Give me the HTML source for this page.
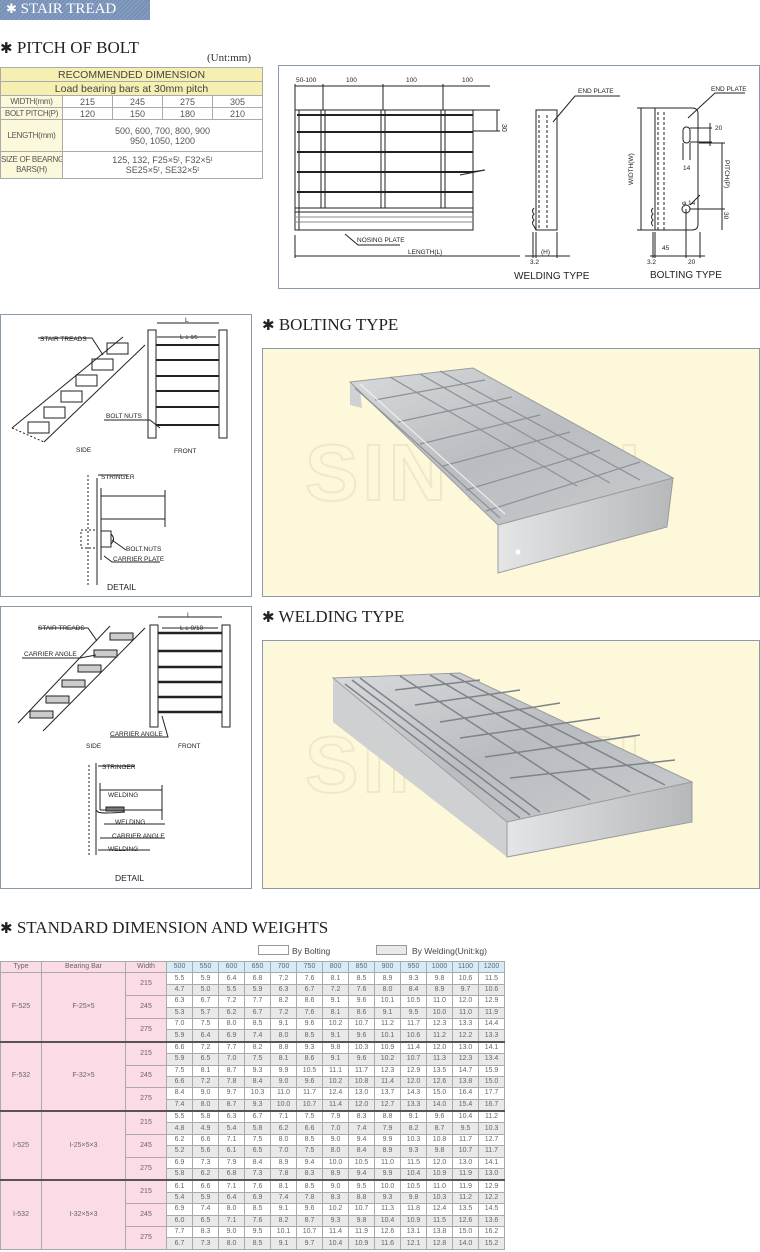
<!DOCTYPE html>
<html><head><meta charset="utf-8">
<style>
body{margin:0;width:760px;height:1252px;position:relative;background:#fff;overflow:hidden;font-family:"Liberation Sans",sans-serif}
.abs{position:absolute}
.h{font-family:"Liberation Serif",serif;font-size:17px;color:#222;white-space:nowrap}
.h b{font-family:"DejaVu Sans",sans-serif;font-size:15px}
table{border-collapse:collapse;table-layout:fixed}
#t1{left:0;top:67px;width:262px;font-size:9px;color:#555}
#t1 td{border:1px solid #aaa;text-align:center;padding:0;line-height:10px;overflow:hidden;white-space:nowrap}
#t1 .y{background:#f5efb2;font-size:10.5px;color:#444}
#t1 .l{background:#fcf8dc;font-size:8px;letter-spacing:-0.3px}
#t2{left:0;top:961px;width:503px;font-size:7px;color:#666}
#t2 td{border:1px solid #aaa;text-align:center;padding:0;height:10.4px;line-height:10px}
#t2 .p{background:#fbdbe6}
#t2 .b{background:#d5ecf8}
#t2 tr.w td{background:#e9e9e9}
#t2 tr.w td.p{background:#fbdbe6}
#t2 tr.g td{border-top:2px solid #555}
</style></head><body>

<div class="abs" style="left:0;top:0;width:150px;height:20px;background:repeating-linear-gradient(135deg,#7690b6 0 2px,#8aa1c4 2px 3px)"></div>
<div class="abs" style="left:6px;top:1px;color:#fff;font-family:'Liberation Serif',serif;font-size:15px"><span style="font-family:'DejaVu Sans';font-size:13px">✱</span> STAIR TREAD</div>

<div class="abs h" style="left:0;top:38px"><b>✱</b> PITCH OF BOLT</div>
<div class="abs" style="left:207px;top:52px;font-family:'Liberation Serif',serif;font-size:11px;color:#333">(Unt:mm)</div>

<table id="t1" class="abs">
<colgroup><col style="width:62px"><col style="width:50px"><col style="width:50px"><col style="width:50px"><col style="width:50px"></colgroup>
<tr><td class="y" colspan="5" style="height:13px">RECOMMENDED DIMENSION</td></tr>
<tr><td class="y" colspan="5" style="height:13px">Load bearing bars at 30mm pitch</td></tr>
<tr><td class="l" style="height:11px">WIDTH(mm)</td><td>215</td><td>245</td><td>275</td><td>305</td></tr>
<tr><td class="l" style="height:11px">BOLT PITCH(P)</td><td>120</td><td>150</td><td>180</td><td>210</td></tr>
<tr><td class="l" style="height:31px">LENGTH(mm)</td><td colspan="4">500, 600, 700, 800, 900<br>950, 1050, 1200</td></tr>
<tr><td class="l" style="height:26px">SIZE OF BEARNG<br>BARS(H)</td><td colspan="4">125, 132, F25×5ᵗ, F32×5ᵗ<br>SE25×5ᵗ, SE32×5ᵗ</td></tr>
</table>

<svg class="abs" style="left:0;top:0" width="760" height="1252" font-family="Liberation Sans, sans-serif">
<defs>
<linearGradient id="mt" x1="0" y1="0" x2="1" y2="1"><stop offset="0" stop-color="#d8dadc"/><stop offset=".5" stop-color="#b9bcc0"/><stop offset="1" stop-color="#c9cbce"/></linearGradient>
<linearGradient id="mf" x1="0" y1="0" x2="1" y2="0"><stop offset="0" stop-color="#e4e5e6"/><stop offset="1" stop-color="#b6b8ba"/></linearGradient>
</defs>
<rect x="278.5" y="65.5" width="481" height="223" fill="#fff" stroke="#8a9aab"/>
<g stroke="#222" fill="none" stroke-width="1">
<line x1="295" y1="86" x2="490" y2="86"/>
<line x1="295" y1="84" x2="295" y2="110"/><line x1="323" y1="84" x2="323" y2="110"/><line x1="383" y1="84" x2="383" y2="110"/><line x1="443" y1="84" x2="443" y2="110"/>
<rect x="295" y="110" width="178" height="120"/>
<line x1="299" y1="110" x2="299" y2="230"/>
<g stroke-width="2"><line x1="297" y1="115" x2="473" y2="115"/><line x1="297" y1="132" x2="473" y2="132"/><line x1="297" y1="152" x2="473" y2="152"/><line x1="297" y1="172" x2="473" y2="172"/><line x1="297" y1="192" x2="473" y2="192"/></g>
<rect x="321" y="110" width="4" height="98"/><rect x="381" y="110" width="4" height="98"/><rect x="441" y="110" width="4" height="98"/>
<line x1="295" y1="208" x2="473" y2="208"/><line x1="295" y1="212" x2="473" y2="212"/><line x1="295" y1="217" x2="473" y2="217" stroke="#888"/><line x1="295" y1="222" x2="473" y2="222" stroke="#888"/>
<line x1="473" y1="110" x2="500" y2="110"/><line x1="473" y1="131" x2="500" y2="131"/><line x1="497" y1="110" x2="497" y2="131"/>
<path d="M460 175 L485 170 L470 172"/>
<line x1="295" y1="256" x2="520" y2="256"/><line x1="295" y1="235" x2="295" y2="258"/>
<path d="M345 234 L358 245 L400 245"/>
<rect x="536" y="110" width="21" height="120"/>
<path d="M539 115 L539 230" stroke-dasharray="3 2"/><path d="M547 115 L547 230" stroke-dasharray="3 2"/>
<path d="M534 208 q-3 3 0 6 q-3 3 0 6 q-3 3 0 6 l2 4"/>
<line x1="533" y1="232" x2="533" y2="258"/><line x1="536" y1="232" x2="536" y2="258"/><line x1="557" y1="232" x2="557" y2="258"/>
<line x1="525" y1="256" x2="570" y2="256"/>
<path d="M553 122 L575 96 L620 96"/>
<path d="M655 108 L692 108 Q698 108 698 114 L698 224 Q698 230 692 230 L655 230 Z"/>
<path d="M658 112 L658 230" stroke-dasharray="3 2"/><path d="M664 112 L664 230" stroke-dasharray="3 2"/>
<rect x="683" y="127" width="7" height="16" rx="3.5"/><circle cx="686" cy="209" r="4"/>
<path d="M653 208 q-3 3 0 6 q-3 3 0 6 q-3 3 0 6"/>
<line x1="637" y1="108" x2="655" y2="108"/><line x1="637" y1="230" x2="655" y2="230"/><line x1="641" y1="108" x2="641" y2="230"/>
<line x1="690" y1="128" x2="712" y2="128"/><line x1="690" y1="142" x2="712" y2="142"/><line x1="710" y1="123" x2="710" y2="146"/>
<line x1="683" y1="143" x2="683" y2="160"/><line x1="690" y1="143" x2="690" y2="160"/>
<line x1="699" y1="143" x2="725" y2="143"/><line x1="722" y1="143" x2="722" y2="230"/><line x1="690" y1="209" x2="725" y2="209"/>
<line x1="686" y1="209" x2="686" y2="258"/><line x1="700" y1="232" x2="700" y2="258"/><line x1="655" y1="232" x2="655" y2="258"/><line x1="653" y1="232" x2="653" y2="258"/>
<line x1="650" y1="256" x2="705" y2="256"/>
<path d="M690 205 L700 195"/><path d="M688 118 L715 93 L745 93"/>
</g>
<g font-size="6.5" fill="#222">
<text x="296" y="82">50-100</text><text x="346" y="82">100</text><text x="406" y="82">100</text><text x="462" y="82">100</text>
<text x="502" y="124" transform="rotate(90 502 124)" font-size="7">30</text>
<text x="357" y="242">NOSING PLATE</text><text x="408" y="254">LENGTH(L)</text>
<text x="578" y="93">END PLATE</text><text x="711" y="91">END PLATE</text>
<text x="541" y="254">(H)</text><text x="530" y="264">3.2</text>
<text x="715" y="130">20</text><text x="683" y="170">14</text><text x="682" y="205">φ 14</text>
<text x="662" y="250">45</text><text x="688" y="264">20</text><text x="647" y="264">3.2</text>
<text x="633" y="185" transform="rotate(-90 633 185)">WIDTH(W)</text>
<text x="725" y="160" transform="rotate(90 725 160)">PITCH(P)</text>
<text x="724" y="212" transform="rotate(90 724 212)">30</text>
</g>
<text x="514" y="279" font-size="10" fill="#222">WELDING TYPE</text>
<text x="650" y="278" font-size="10" fill="#222">BOLTING TYPE</text>

<rect x="0.5" y="314.5" width="251" height="282" fill="#fff" stroke="#8a9aab"/>
<g stroke="#222" fill="none">
<line x1="12" y1="428" x2="123" y2="337"/><line x1="44" y1="442" x2="145" y2="345"/>
<path d="M12 428 L44 442" stroke-dasharray="2 2"/>
<rect x="28" y="422" width="21" height="11"/><rect x="44" y="407" width="21" height="11"/><rect x="61" y="391" width="21" height="11"/><rect x="76" y="375" width="21" height="11"/><rect x="92" y="359" width="21" height="11"/><rect x="107" y="343" width="21" height="11"/>
<path d="M38 338 L92 338 L103 355"/>
<rect x="148" y="330" width="8" height="108"/><rect x="219" y="330" width="8" height="108"/>
<g stroke-width="2"><line x1="156" y1="345" x2="219" y2="345"/><line x1="156" y1="360" x2="219" y2="360"/><line x1="156" y1="376" x2="219" y2="376"/><line x1="156" y1="391" x2="219" y2="391"/><line x1="156" y1="407" x2="219" y2="407"/><line x1="156" y1="425" x2="219" y2="425"/></g>
<line x1="157" y1="323" x2="219" y2="323"/><line x1="157" y1="337" x2="216" y2="337"/>
<path d="M104 420 L150 420 L160 428"/>
<line x1="88" y1="475" x2="88" y2="585" stroke-dasharray="2 2"/><line x1="97" y1="478" x2="97" y2="585"/><line x1="101" y1="488" x2="101" y2="560"/>
<line x1="101" y1="496" x2="165" y2="496"/><line x1="101" y1="519" x2="165" y2="519"/><line x1="165" y1="490" x2="165" y2="527"/>
<rect x="81" y="530" width="16" height="18" stroke-dasharray="2 2"/><rect x="101" y="531" width="10" height="16"/><path d="M111 534 q5 5 0 10"/>
<path d="M98 475 L128 475"/><path d="M112 540 L126 550"/><path d="M104 556 L112 562 L160 562"/>
</g>
<g font-size="6.5" fill="#222">
<text x="40" y="341">STAIR TREADS</text><text x="106" y="418">BOLT NUTS</text><text x="76" y="452">SIDE</text><text x="174" y="453">FRONT</text>
<text x="185" y="322">L</text><text x="180" y="339">L ± <tspan font-size="5">0/5</tspan></text>
<text x="101" y="479">STRINGER</text><text x="126" y="551">BOLT.NUTS</text><text x="113" y="561">CARRIER PLATE</text>
</g>
<text x="107" y="590" font-size="8.5" fill="#222">DETAIL</text>

<rect x="0.5" y="606.5" width="251" height="282" fill="#fff" stroke="#8a9aab"/>
<g stroke="#222" fill="none">
<line x1="18" y1="723" x2="110" y2="626"/><line x1="43" y1="731" x2="145" y2="628"/>
<g fill="#ccc"><rect x="30" y="711" width="23" height="7"/><rect x="46" y="696" width="23" height="7"/><rect x="62" y="680" width="23" height="7"/><rect x="78" y="665" width="23" height="7"/><rect x="94" y="650" width="23" height="7"/><rect x="110" y="633" width="23" height="7"/></g>
<path d="M38 628 L88 628 L97 641"/><path d="M22 658 L80 658 L96 655"/>
<rect x="150" y="625" width="8" height="102"/><rect x="222" y="625" width="8" height="102"/>
<g stroke-width="2.5"><line x1="158" y1="633" x2="222" y2="633"/><line x1="158" y1="651" x2="222" y2="651"/><line x1="158" y1="667" x2="222" y2="667"/><line x1="158" y1="682" x2="222" y2="682"/><line x1="158" y1="697" x2="222" y2="697"/><line x1="158" y1="712" x2="222" y2="712"/></g>
<line x1="158" y1="617" x2="222" y2="617"/><line x1="162" y1="628" x2="218" y2="628"/>
<path d="M110 737 L168 737 L162 716"/>
<line x1="89" y1="765" x2="89" y2="855" stroke-dasharray="2 2"/><line x1="96" y1="763" x2="96" y2="855"/><line x1="100" y1="783" x2="100" y2="810"/>
<line x1="100" y1="790" x2="162" y2="790"/><line x1="100" y1="810" x2="162" y2="810"/><line x1="162" y1="785" x2="162" y2="820"/>
<path d="M96 810 L98 812 Q102 814 125 812"/><rect x="106" y="807" width="18" height="4" fill="#777"/>
<path d="M98 766 L135 766"/><path d="M104 824 L130 824 L165 824"/><path d="M100 838 L110 838 L165 838"/><path d="M98 850 L105 850 L150 850"/>
</g>
<g font-size="6.5" fill="#222">
<text x="38" y="630">STAIR TREADS</text><text x="24" y="656">CARRIER ANGLE</text><text x="110" y="736">CARRIER ANGLE</text>
<text x="86" y="748">SIDE</text><text x="178" y="748">FRONT</text><text x="187" y="617">L</text><text x="180" y="630">L ± 0/10</text>
<text x="102" y="769">STRINGER</text><text x="108" y="797">WELDING</text><text x="115" y="824">WELDING</text><text x="112" y="838">CARRIER ANGLE</text><text x="108" y="851">WELDING</text>
</g>
<text x="115" y="881" font-size="8.5" fill="#222">DETAIL</text>

<rect x="262.5" y="348.5" width="497" height="248" fill="#fdf8d9" stroke="#8a9aab"/>
<text x="305" y="500" font-size="80" font-weight="bold" fill="#fdf8d9" stroke="#efe9c8" stroke-width="2" letter-spacing="4">SINTEEL</text>
<polygon points="350,382 350,405 362,408 360,390" fill="#cfd1d3"/>
<polygon points="350,382 473,368 673,478 498,525" fill="url(#mt)" stroke="#9a9da0"/>
<g stroke="#8d9094" stroke-width="1.2">
<line x1="390" y1="377" x2="577" y2="486"/><line x1="420" y1="374" x2="610" y2="483"/><line x1="440" y1="371" x2="640" y2="480"/>
<line x1="375" y1="400" x2="485" y2="380"/><line x1="398" y1="422" x2="512" y2="397"/><line x1="420" y1="444" x2="540" y2="415"/><line x1="443" y1="466" x2="570" y2="432"/><line x1="466" y1="490" x2="600" y2="450"/><line x1="486" y1="511" x2="640" y2="462"/>
<line x1="355" y1="388" x2="500" y2="518"/><line x1="360" y1="384" x2="505" y2="514" stroke="#eee"/>
</g>
<polygon points="498,525 673,478 667,527 498,573" fill="url(#mf)" stroke="#9a9da0"/>
<circle cx="518" cy="552" r="2.5" fill="#fff"/>

<rect x="262.5" y="640.5" width="497" height="248" fill="#fdf8d9" stroke="#8a9aab"/>
<text x="305" y="792" font-size="80" font-weight="bold" fill="#fdf8d9" stroke="#efe9c8" stroke-width="2" letter-spacing="4">SINTEEL</text>
<polygon points="333,678 333,722 507,857 507,822" fill="#cfd0d1"/>
<polygon points="333,678 460,673 692,782 507,822" fill="url(#mt)" stroke="#9a9da0"/>
<g stroke="#7f8387" stroke-width="1.5">
<line x1="345" y1="684" x2="520" y2="818"/><line x1="352" y1="680" x2="530" y2="815"/><line x1="360" y1="678" x2="540" y2="812"/>
<line x1="400" y1="676" x2="590" y2="800"/><line x1="430" y1="675" x2="630" y2="792"/><line x1="450" y1="674" x2="665" y2="785"/>
<line x1="395" y1="690" x2="480" y2="680"/><line x1="415" y1="705" x2="520" y2="690"/><line x1="440" y1="722" x2="560" y2="703"/><line x1="460" y1="738" x2="600" y2="718"/><line x1="485" y1="757" x2="640" y2="735"/><line x1="510" y1="778" x2="675" y2="760"/>
</g>
<polygon points="507,822 692,782 692,822 507,857" fill="url(#mf)" stroke="#9a9da0"/>

<rect x="258.5" y="945.5" width="30" height="9" fill="#fff" stroke="#999"/>
<rect x="376.5" y="945.5" width="30" height="9" fill="#e9e9e9" stroke="#999"/>
<text x="292" y="954" font-size="8.5" fill="#444">By Bolting</text>
<text x="412" y="954" font-size="8.5" fill="#444">By Welding(Unit:kg)</text>
</svg>

<div class="abs h" style="left:262px;top:315px"><b>✱</b> BOLTING TYPE</div>
<div class="abs h" style="left:262px;top:607px"><b>✱</b> WELDING TYPE</div>
<div class="abs h" style="left:0;top:918px"><b>✱</b> STANDARD DIMENSION AND WEIGHTS</div>

<table id="t2" class="abs">
<colgroup><col style="width:41px"><col style="width:84px"><col style="width:41px"><col span="13" style="width:26px"></colgroup>
<tr><td class="p">Type</td><td class="p">Bearing Bar</td><td class="p">Width</td><td class="b">500</td><td class="b">550</td><td class="b">600</td><td class="b">650</td><td class="b">700</td><td class="b">750</td><td class="b">800</td><td class="b">850</td><td class="b">900</td><td class="b">950</td><td class="b">1000</td><td class="b">1100</td><td class="b">1200</td></tr>
<tr><td class="p" rowspan="6">F-525</td><td class="p" rowspan="6">F-25×5</td><td class="p" rowspan="2">215</td><td>5.5</td><td>5.9</td><td>6.4</td><td>6.8</td><td>7.2</td><td>7.6</td><td>8.1</td><td>8.5</td><td>8.9</td><td>9.3</td><td>9.8</td><td>10.6</td><td>11.5</td></tr>
<tr class="w"><td>4.7</td><td>5.0</td><td>5.5</td><td>5.9</td><td>6.3</td><td>6.7</td><td>7.2</td><td>7.6</td><td>8.0</td><td>8.4</td><td>8.9</td><td>9.7</td><td>10.6</td></tr>
<tr><td class="p" rowspan="2">245</td><td>6.3</td><td>6.7</td><td>7.2</td><td>7.7</td><td>8.2</td><td>8.6</td><td>9.1</td><td>9.6</td><td>10.1</td><td>10.5</td><td>11.0</td><td>12.0</td><td>12.9</td></tr>
<tr class="w"><td>5.3</td><td>5.7</td><td>6.2</td><td>6.7</td><td>7.2</td><td>7.6</td><td>8.1</td><td>8.6</td><td>9.1</td><td>9.5</td><td>10.0</td><td>11.0</td><td>11.9</td></tr>
<tr><td class="p" rowspan="2">275</td><td>7.0</td><td>7.5</td><td>8.0</td><td>8.5</td><td>9.1</td><td>9.6</td><td>10.2</td><td>10.7</td><td>11.2</td><td>11.7</td><td>12.3</td><td>13.3</td><td>14.4</td></tr>
<tr class="w"><td>5.9</td><td>6.4</td><td>6.9</td><td>7.4</td><td>8.0</td><td>8.5</td><td>9.1</td><td>9.6</td><td>10.1</td><td>10.6</td><td>11.2</td><td>12.2</td><td>13.3</td></tr>
<tr class="g"><td class="p" rowspan="6">F-532</td><td class="p" rowspan="6">F-32×5</td><td class="p" rowspan="2">215</td><td>6.6</td><td>7.2</td><td>7.7</td><td>8.2</td><td>8.8</td><td>9.3</td><td>9.8</td><td>10.3</td><td>10.9</td><td>11.4</td><td>12.0</td><td>13.0</td><td>14.1</td></tr>
<tr class="w"><td>5.9</td><td>6.5</td><td>7.0</td><td>7.5</td><td>8.1</td><td>8.6</td><td>9.1</td><td>9.6</td><td>10.2</td><td>10.7</td><td>11.3</td><td>12.3</td><td>13.4</td></tr>
<tr><td class="p" rowspan="2">245</td><td>7.5</td><td>8.1</td><td>8.7</td><td>9.3</td><td>9.9</td><td>10.5</td><td>11.1</td><td>11.7</td><td>12.3</td><td>12.9</td><td>13.5</td><td>14.7</td><td>15.9</td></tr>
<tr class="w"><td>6.6</td><td>7.2</td><td>7.8</td><td>8.4</td><td>9.0</td><td>9.6</td><td>10.2</td><td>10.8</td><td>11.4</td><td>12.0</td><td>12.6</td><td>13.8</td><td>15.0</td></tr>
<tr><td class="p" rowspan="2">275</td><td>8.4</td><td>9.0</td><td>9.7</td><td>10.3</td><td>11.0</td><td>11.7</td><td>12.4</td><td>13.0</td><td>13.7</td><td>14.3</td><td>15.0</td><td>16.4</td><td>17.7</td></tr>
<tr class="w"><td>7.4</td><td>8.0</td><td>8.7</td><td>9.3</td><td>10.0</td><td>10.7</td><td>11.4</td><td>12.0</td><td>12.7</td><td>13.3</td><td>14.0</td><td>15.4</td><td>16.7</td></tr>
<tr class="g"><td class="p" rowspan="6">I-525</td><td class="p" rowspan="6">I-25×5×3</td><td class="p" rowspan="2">215</td><td>5.5</td><td>5.8</td><td>6.3</td><td>6.7</td><td>7.1</td><td>7.5</td><td>7.9</td><td>8.3</td><td>8.8</td><td>9.1</td><td>9.6</td><td>10.4</td><td>11.2</td></tr>
<tr class="w"><td>4.8</td><td>4.9</td><td>5.4</td><td>5.8</td><td>6.2</td><td>6.6</td><td>7.0</td><td>7.4</td><td>7.9</td><td>8.2</td><td>8.7</td><td>9.5</td><td>10.3</td></tr>
<tr><td class="p" rowspan="2">245</td><td>6.2</td><td>6.6</td><td>7.1</td><td>7.5</td><td>8.0</td><td>8.5</td><td>9.0</td><td>9.4</td><td>9.9</td><td>10.3</td><td>10.8</td><td>11.7</td><td>12.7</td></tr>
<tr class="w"><td>5.2</td><td>5.6</td><td>6.1</td><td>6.5</td><td>7.0</td><td>7.5</td><td>8.0</td><td>8.4</td><td>8.9</td><td>9.3</td><td>9.8</td><td>10.7</td><td>11.7</td></tr>
<tr><td class="p" rowspan="2">275</td><td>6.9</td><td>7.3</td><td>7.9</td><td>8.4</td><td>8.9</td><td>9.4</td><td>10.0</td><td>10.5</td><td>11.0</td><td>11.5</td><td>12.0</td><td>13.0</td><td>14.1</td></tr>
<tr class="w"><td>5.8</td><td>6.2</td><td>6.8</td><td>7.3</td><td>7.8</td><td>8.3</td><td>8.9</td><td>9.4</td><td>9.9</td><td>10.4</td><td>10.9</td><td>11.9</td><td>13.0</td></tr>
<tr class="g"><td class="p" rowspan="6">I-532</td><td class="p" rowspan="6">I-32×5×3</td><td class="p" rowspan="2">215</td><td>6.1</td><td>6.6</td><td>7.1</td><td>7.6</td><td>8.1</td><td>8.5</td><td>9.0</td><td>9.5</td><td>10.0</td><td>10.5</td><td>11.0</td><td>11.9</td><td>12.9</td></tr>
<tr class="w"><td>5.4</td><td>5.9</td><td>6.4</td><td>6.9</td><td>7.4</td><td>7.8</td><td>8.3</td><td>8.8</td><td>9.3</td><td>9.8</td><td>10.3</td><td>11.2</td><td>12.2</td></tr>
<tr><td class="p" rowspan="2">245</td><td>6.9</td><td>7.4</td><td>8.0</td><td>8.5</td><td>9.1</td><td>9.6</td><td>10.2</td><td>10.7</td><td>11.3</td><td>11.8</td><td>12.4</td><td>13.5</td><td>14.5</td></tr>
<tr class="w"><td>6.0</td><td>6.5</td><td>7.1</td><td>7.6</td><td>8.2</td><td>8.7</td><td>9.3</td><td>9.8</td><td>10.4</td><td>10.9</td><td>11.5</td><td>12.6</td><td>13.6</td></tr>
<tr><td class="p" rowspan="2">275</td><td>7.7</td><td>8.3</td><td>9.0</td><td>9.5</td><td>10.1</td><td>10.7</td><td>11.4</td><td>11.9</td><td>12.6</td><td>13.1</td><td>13.8</td><td>15.0</td><td>16.2</td></tr>
<tr class="w"><td>6.7</td><td>7.3</td><td>8.0</td><td>8.5</td><td>9.1</td><td>9.7</td><td>10.4</td><td>10.9</td><td>11.6</td><td>12.1</td><td>12.8</td><td>14.0</td><td>15.2</td></tr>
</table>
</body></html>
